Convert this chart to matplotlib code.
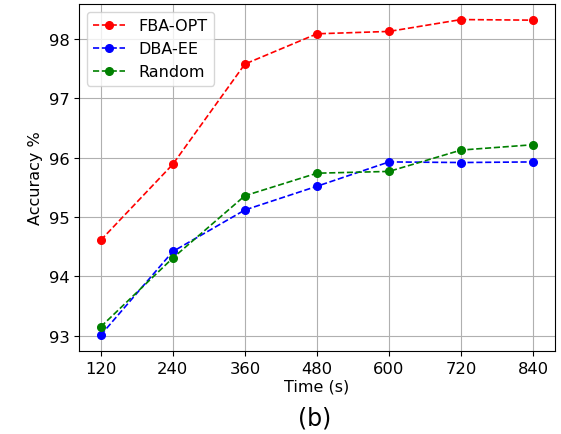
import numpy as np
import matplotlib
matplotlib.use('Agg')
import matplotlib.pyplot as plt

# data
times = [120, 240, 360, 480, 600, 720, 840]
acc_fba_opt = [94.61, 95.89, 97.58, 98.09, 98.13, 98.33, 98.32]
acc_dba_ee = [93.01, 94.42, 95.12, 95.52, 95.93, 95.92, 95.93]
acc_random = [93.15, 94.31, 95.36, 95.74, 95.77, 96.13, 96.22]

fig = plt.figure(figsize=(5.61, 4.35), dpi=100)
ax = fig.add_axes([0.141, 0.191, 0.848, 0.798])

ax.plot(times, acc_fba_opt, '--o', color='red', linewidth=1.2, markersize=5.5, label='FBA-OPT')
ax.plot(times, acc_dba_ee, '--o', color='blue', linewidth=1.2, markersize=5.5, label='DBA-EE')
ax.plot(times, acc_random, '--o', color='green', linewidth=1.2, markersize=5.5, label='Random')

ax.set_xticks(times)
ax.grid(True)
ax.legend(loc='upper left', fontsize=11.5)
ax.set_xlabel('Time (s)', fontsize=11.5, labelpad=2)
ax.set_ylabel('Accuracy %', fontsize=11.5)
ax.tick_params(labelsize=11.8)
fig.text(0.56, 0.039, '(b)', fontsize=17, ha='center', va='center')

fig.savefig('out.png', dpi=100)
